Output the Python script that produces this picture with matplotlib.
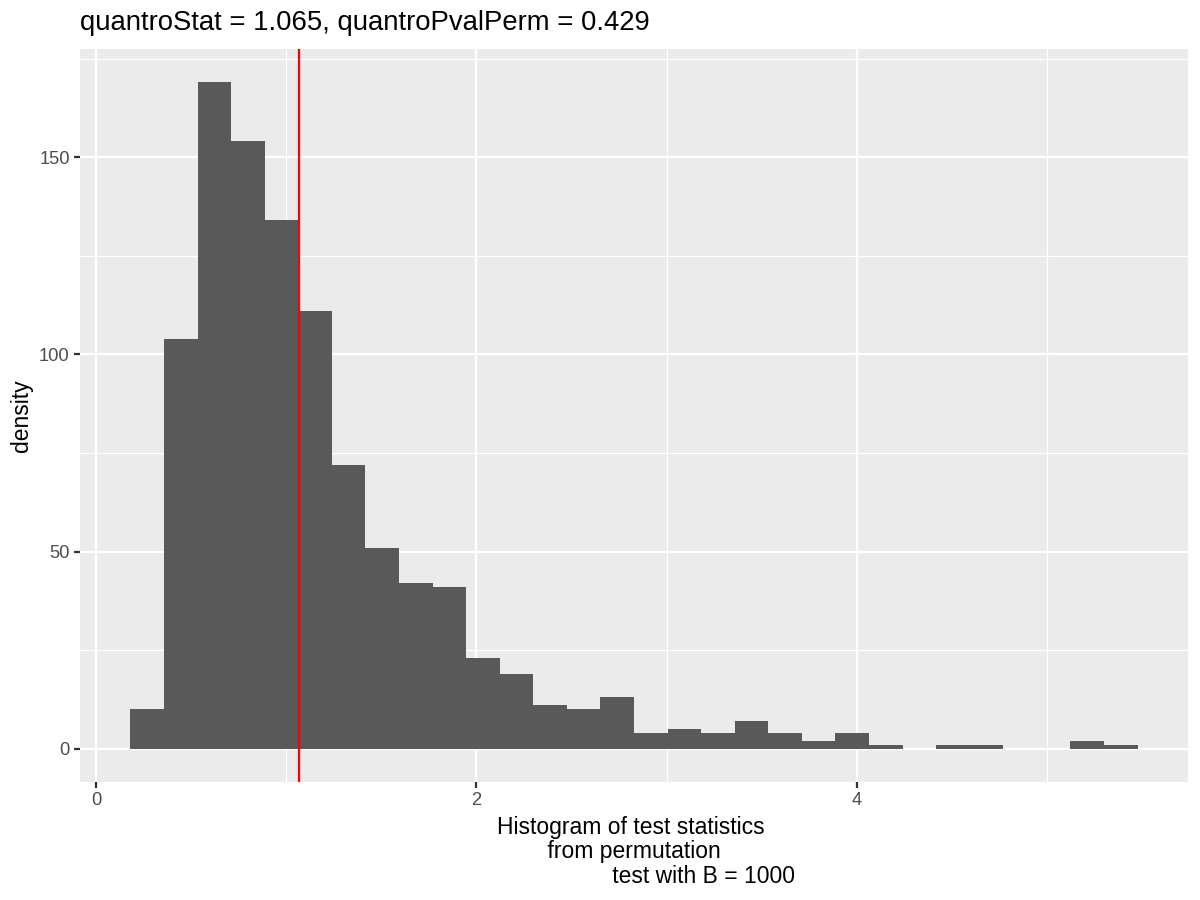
import numpy as np
import matplotlib.pyplot as plt

# permutation test statistics, 30 bins (counts)
bin_lo = 0.180
bin_hi = 5.478
counts = [10, 104, 169, 154, 134, 111, 72, 51, 42, 41,
          23, 19, 11, 10, 13, 4, 5, 4, 7, 4,
          2, 4, 1, 0, 1, 1, 0, 0, 2, 1]
quantro_stat = 1.065
pval_perm = 0.429
B = 1000

x_ticks = [0, 2, 4]
x_minor = [1, 3, 5]
y_ticks = [0, 50, 100, 150]
y_minor = [25, 75, 125, 175]

plt.rcParams['font.family'] = ['Liberation Sans', 'DejaVu Sans']

edges = np.linspace(bin_lo, bin_hi, len(counts) + 1)

fig = plt.figure(figsize=(8, 6), dpi=150, facecolor='w')
ax = fig.add_axes([80/1200, 1 - 782/900, (1188-80)/1200, (782-49)/900])
ax.set_facecolor('#EBEBEB')

ax.bar(edges[:-1], counts, width=np.diff(edges), align='edge',
       color='#595959', linewidth=0, zorder=2)
ax.axvline(quantro_stat, color='#FF0000', lw=1.07, zorder=3)

span = bin_hi - bin_lo
ax.set_xlim(bin_lo - 0.05*span, bin_hi + 0.05*span)
ax.set_ylim(-0.05*max(counts), 1.05*max(counts))

ax.set_xticks(x_ticks)
ax.set_xticks(x_minor, minor=True)
ax.set_yticks(y_ticks)
ax.set_yticks(y_minor, minor=True)
ax.grid(True, which='major', color='white', lw=1.07, zorder=1)
ax.grid(True, which='minor', color='white', lw=0.53, zorder=1)
ax.set_axisbelow(True)
for s in ax.spines.values():
    s.set_visible(False)
ax.tick_params(which='major', length=2.75, width=1.07, color='#333333',
               labelsize=8.8, labelcolor='#4D4D4D', pad=2.2)
ax.tick_params(which='minor', length=0)

ax.set_title('quantroStat = %.3f, quantroPvalPerm = %.3f' % (quantro_stat, pval_perm),
             loc='left', fontsize=13.2, pad=9)
ax.set_xlabel('Histogram of test statistics \n from permutation \n'
              + ' ' * 22 + 'test with B = %d' % B, fontsize=11, labelpad=3,
              linespacing=1.1)
ax.set_ylabel('density', fontsize=11, labelpad=3)

fig.savefig('out.png', dpi=150)
